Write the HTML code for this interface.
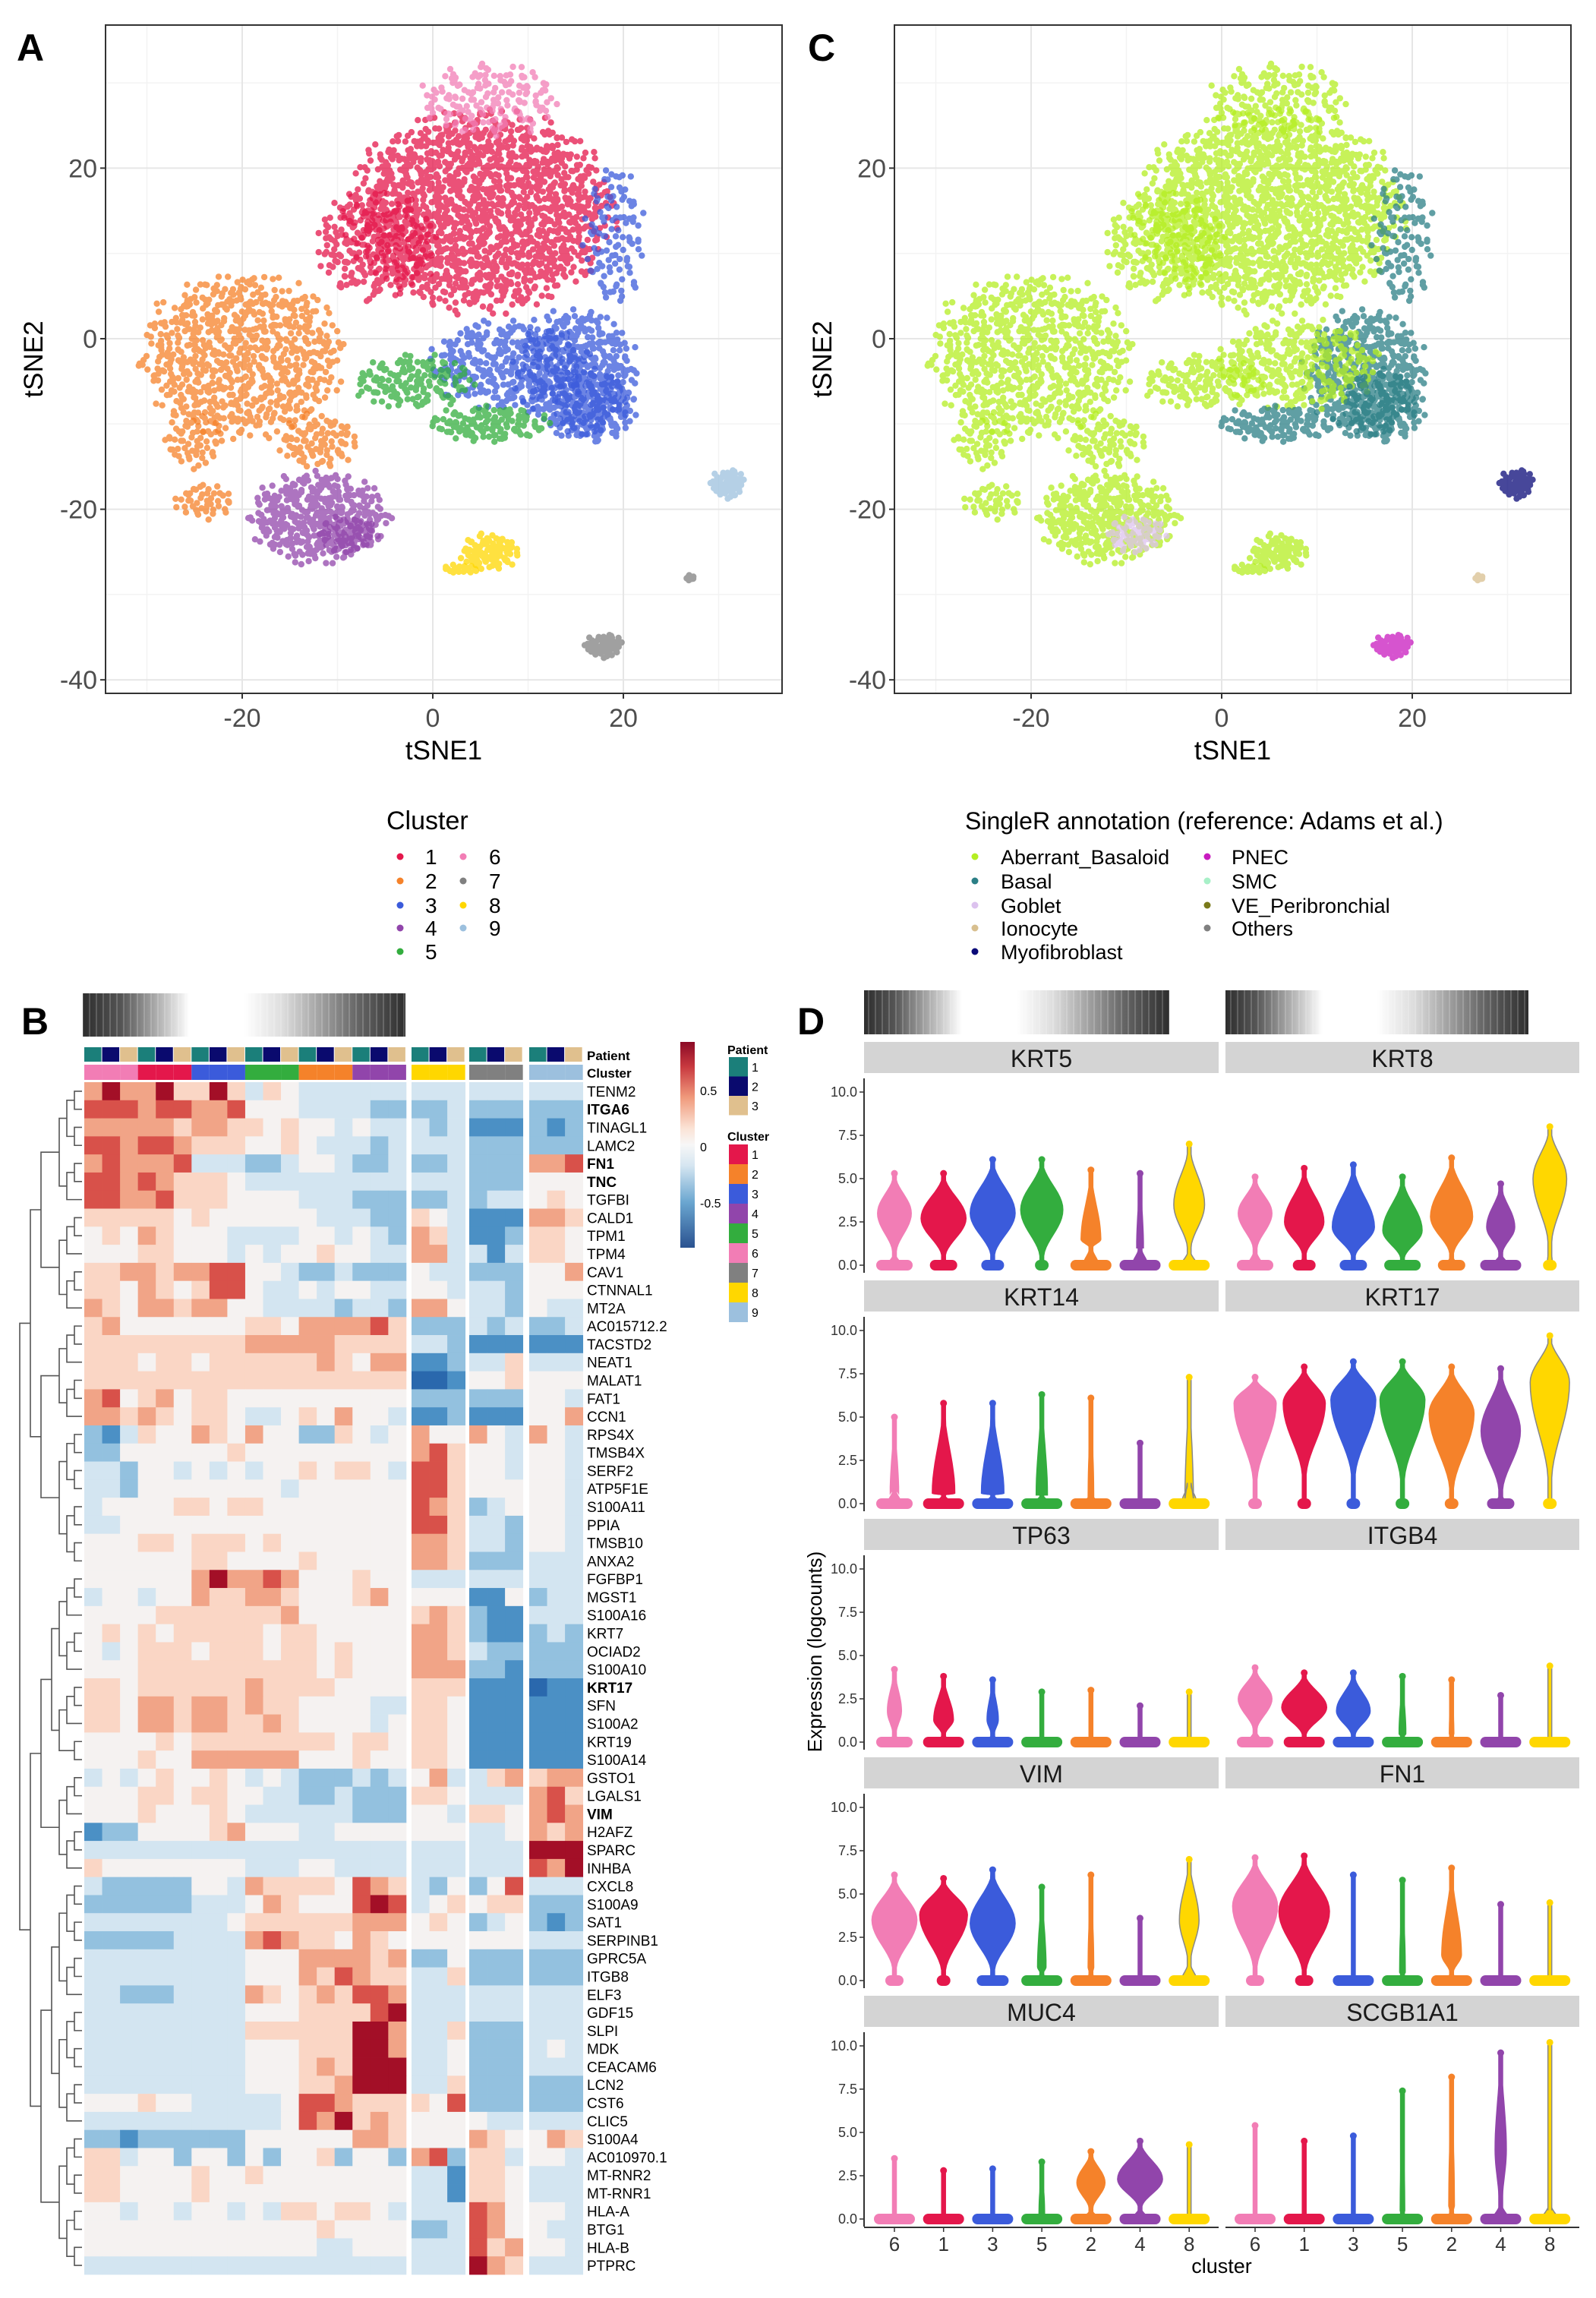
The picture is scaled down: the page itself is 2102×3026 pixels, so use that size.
<!DOCTYPE html>
<html><head><meta charset="utf-8"><title>Figure</title>
<style>html,body{margin:0;padding:0;background:#fff}svg{display:block}text{font-family:"Liberation Sans",Arial,sans-serif}</style>
</head><body>
<svg id="fig" xmlns="http://www.w3.org/2000/svg" width="2102" height="3026" viewBox="0 0 2102 3026">
<defs>
<linearGradient id="barGradH" x1="0" x2="1" y1="0" y2="0">
<stop offset="0" stop-color="#2e2e2e"/><stop offset="0.12" stop-color="#555"/><stop offset="0.33" stop-color="#fff"/><stop offset="0.5" stop-color="#fff"/><stop offset="0.62" stop-color="#ddd"/><stop offset="0.85" stop-color="#666"/><stop offset="1" stop-color="#2e2e2e"/>
</linearGradient>
<linearGradient id="barGradD" x1="0" x2="1" y1="0" y2="0">
<stop offset="0" stop-color="#2e2e2e"/><stop offset="0.1" stop-color="#555"/><stop offset="0.32" stop-color="#fff"/><stop offset="0.5" stop-color="#fff"/><stop offset="0.62" stop-color="#ddd"/><stop offset="0.85" stop-color="#666"/><stop offset="1" stop-color="#2e2e2e"/>
</linearGradient>
<pattern id="stripes" width="9" height="10" patternUnits="userSpaceOnUse"><rect x="0" y="0" width="2" height="10" fill="#fff" fill-opacity="0.18"/></pattern>
<linearGradient id="cbar" x1="0" x2="0" y1="0" y2="1">
<stop offset="0" stop-color="#8b0a26"/><stop offset="0.12" stop-color="#c8393f"/><stop offset="0.27" stop-color="#f09a7c"/><stop offset="0.42" stop-color="#fbe3d6"/><stop offset="0.5" stop-color="#f7f7f7"/><stop offset="0.6" stop-color="#d6e6f1"/><stop offset="0.78" stop-color="#6aa6d0"/><stop offset="1" stop-color="#2a5290"/>
</linearGradient>
<clipPath id="clipA"><rect x="139" y="33" width="891" height="880"/></clipPath>
<clipPath id="clipC"><rect x="1178" y="33" width="891" height="880"/></clipPath>
</defs>
<text x="22" y="80" font-size="50" font-weight="bold">A</text>
<text x="1064" y="80" font-size="50" font-weight="bold">C</text>
<text x="28" y="1362" font-size="50" font-weight="bold">B</text>
<text x="1050" y="1362" font-size="50" font-weight="bold">D</text>
<g id="gA"></g>
<g id="gC"></g>
<g id="gLeg"></g>
<g id="gB"></g>
<g id="gD"></g>
</svg>
<script>
// ---------- DATA ----------
const clusterIds = ["1","2","3","4","5","6","7","8","9"];
const clusterColors = ["#e4174b","#f5822a","#3b5bdb","#9145ab","#33ad3e","#f27db5","#808080","#ffd700","#9cc0de"];
const annotNames = ["Aberrant_Basaloid","Basal","Goblet","Ionocyte","Myofibroblast","PNEC","SMC","VE_Peribronchial","Others"];
const annotColors = ["#b4ee22","#2b7f86","#dcc2ee","#d8bf8f","#0a0a78","#c81bbf","#a8f0c8","#7a7a1a","#808080"];
const xTicks = [-20,0,20];
const yTicks = [-40,-20,0,20];
// blobs: [cx, cy, rx, ry, count, clusterIndex, annotIndex]
const blobCx = [5,-6,6,15,8,19,-20,-25,-12,-24,-2,6,-12,6,3,18,31,27,-9,17];
const blobCy = [15,11,28,-4,-3,12,-2,-12,-12,-19,-5,-10,-21,-25,-27,-36,-17,-28,-23,-8];
const blobRx = [13,6,7,6,8,3,10,3,4,3,6,6,7,3,2,2,1.8,0.6,3,4];
const blobRy = [11,6,4,7,5,8,9,3,3,2,3,2,5,2,0.5,1.3,1.6,0.3,2,4];
const blobN  = [1600,250,170,450,320,110,750,60,90,45,150,130,420,90,20,60,60,8,70,200];
const blobCluster = [0,0,5,2,2,2,1,1,1,1,4,4,3,7,7,6,8,6,3,2];
const blobAnnot   = [0,0,0,1,0,1,0,0,0,0,0,1,0,0,0,5,4,3,2,1];

// heatmap
const geneNames = ["TENM2","ITGA6","TINAGL1","LAMC2","FN1","TNC","TGFBI","CALD1","TPM1","TPM4","CAV1","CTNNAL1","MT2A","AC015712.2","TACSTD2","NEAT1","MALAT1","FAT1","CCN1","RPS4X","TMSB4X","SERF2","ATP5F1E","S100A11","PPIA","TMSB10","ANXA2","FGFBP1","MGST1","S100A16","KRT7","OCIAD2","S100A10","KRT17","SFN","S100A2","KRT19","S100A14","GSTO1","LGALS1","VIM","H2AFZ","SPARC","INHBA","CXCL8","S100A9","SAT1","SERPINB1","GPRC5A","ITGB8","ELF3","GDF15","SLPI","MDK","CEACAM6","LCN2","CST6","CLIC5","S100A4","AC010970.1","MT-RNR2","MT-RNR1","HLA-A","BTG1","HLA-B","PTPRC"];
const boldGenes = ["ITGA6","FN1","TNC","KRT17","VIM"];
const colClusterOrder = ["6","1","3","5","2","4","8","7","9"];
// level 0..8, value = (level-4)*0.2 ; columns: 9 clusters x 3 patients
const heatRows = [
"686685585354333333333333333","777677667444333322223222222","666665665545443433323111212","776776555445433323333222222","676667333223443223223222667","776765554333333333333222444","776675554444333222223233454","555554544444433322543111665","454654443333443432653112554","444554443434454433663313554","556656677443223222433222446","554654577433434433443332444","654665664433332332664332433","564444444554666675222323223","555555555666665555332111111","555455455555565466112335333","555555555555555555001445444","674564554444444444222222443","665654554334546443112111446","213544654644225434644643643","224444445444444444675443443","332443434344545543775443443","332444444443444444775444443","344445545544444444765234443","334444444444444444775332443","444554555454444444665332443","444444554444544444665222333","444444686676444544333333333","344344655665444564444114233","444455555556444444565211333","454545555545544444665211232","434555455545545444665322222","444555555555545444666221222","554555555655554444555111011","554665665655444433554111111","554665665565444434554111111","444454555555554554554111111","444544666666444544554111111","343454454343222323463356566","444554554433223222554333675","444544454333333222443554676","122444456444334444444334656","333333333333333333333333888","544444444333443333333333768","322222443655554765324247333","222222333465444787345455222","333333334555555666454234212","222223333676554654444444333","333333333444666656224222222","333333333444657655335222222","332223333654565776333333333","333333333444555578333333333","333333333555555886335222333","333333333444555886334222343","333333333444565888334222333","333333333444556888335222222","444544333334776555547222222","333333333334768565444433333","221222222444444665444654465","553442442424452442672553443","554444544544444444331554333","554444544444444444331554333","443443443435545543333764443","444444444444454444223764433","444444444444433444333756443","333333333333333333333865333"];
const heatLevelColors = ["#2a68ad","#4b90c5","#93c1df","#d3e5f1","#f5f2f1","#fad6c5","#f1a487","#d8514a","#a30f27"];
const patientColors = ["#1b7f7a","#0a0a6e","#e0c08e"];
const dendroBlocks = [[0,6],[7,12],[13,18],[19,26],[27,37],[38,43],[44,57],[58,65]];

// violins
const violinGenes = ["KRT5","KRT8","KRT14","KRT17","TP63","ITGB4","VIM","FN1","MUC4","SCGB1A1"];
const violinClusters = ["6","1","3","5","2","4","8"];
const violinTicks = [0,2.5,5,7.5,10];
const violinTickLabels = ["0.0","2.5","5.0","7.5","10.0"];
// per gene: 7 entries [zeroWidth, neck, mode, modeWidth, top]
const violinData = {
KRT5:[[.8,.6,3,.6,5.3],[.6,.4,2.7,.8,5.3],[.5,.4,3,.8,6.1],[.3,.3,3.2,.75,6.1],[.9,1,1.5,.35,5.5],[.9,1,1,.12,5.3],[.9,.8,3.5,.55,7]],
KRT8:[[.8,.8,3,.6,5.1],[.5,.5,2.5,.7,5.6],[.6,.4,2.2,.75,5.8],[.8,.3,2,.7,5.1],[.6,.5,2.8,.75,6.2],[.9,.6,2.2,.5,4.7],[.3,1,5,.6,8]],
KRT14:[[.8,.8,.6,.15,5],[.9,.5,.6,.4,5.8],[.9,.5,.6,.4,5.8],[.9,.5,.5,.2,6.3],[.9,.5,.3,.1,6.1],[.9,.3,.2,.05,3.5],[.9,1.2,.3,.15,7.3]],
KRT17:[[.05,1,5.8,.75,7.3],[.05,1.3,5.8,.75,7.9],[.05,1.3,6,.8,8.2],[.05,1,6,.8,8.2],[.05,.5,5.2,.8,7.9],[.6,.5,4.2,.7,7.8],[.05,1,7,.7,9.7]],
TP63:[[.8,.4,1.8,.25,4.2],[.9,.4,1.3,.35,3.8],[.9,.4,1.3,.2,3.6],[.9,.3,.5,.05,2.9],[.9,.3,.5,.03,3],[.9,.3,.5,.05,2.1],[.9,.3,.3,.02,2.9]],
ITGB4:[[.8,.6,2.5,.6,4.3],[.9,.3,2,.8,4],[.9,.3,1.8,.6,4],[.9,.3,.5,.12,3.8],[.9,.3,.5,.08,3.6],[.9,.3,.5,.05,2.7],[.9,.3,.3,.02,4.4]],
VIM:[[.4,.5,3.5,.8,6.1],[.3,.3,3.8,.85,5.9],[.7,.4,3.3,.8,6.4],[.9,.4,.8,.15,5.4],[.9,.4,.8,.1,6.1],[.9,.3,.5,.05,3.6],[.9,1,3.5,.35,7]],
FN1:[[.4,.5,4.3,.8,7.1],[.4,.3,4,.9,7.2],[.9,.3,.5,.05,6.1],[.9,.3,.5,.1,5.8],[.9,.4,1.5,.35,6.5],[.9,.3,.3,.05,4.4],[.9,.3,.3,.02,4.5]],
MUC4:[[.9,.3,.3,.04,3.5],[.9,.3,.3,.05,2.8],[.9,.3,.3,.04,2.9],[.9,.3,.3,.1,3.3],[.9,.5,2.1,.5,3.9],[.9,.6,2.3,.8,4.5],[.9,.3,.3,.02,4.3]],
SCGB1A1:[[.9,.3,.3,.01,5.4],[.9,.3,.5,.05,4.5],[.9,.3,.5,.05,4.8],[.9,.3,.5,.08,7.4],[.9,.4,.8,.1,8.2],[.9,.8,4,.2,9.6],[.9,.8,.5,.03,10.2]]
};

// ---------- HELPERS ----------
const NS="http://www.w3.org/2000/svg";
function mk(parent, tag, attrs, txt){const e=document.createElementNS(NS,tag);for(const k in attrs)e.setAttribute(k,attrs[k]);if(txt!==undefined)e.textContent=txt;parent.appendChild(e);return e;}

// ---------- TSNE PANELS ----------
function tsnePanel(gId, offX, colorMode){
  const g=document.getElementById(gId);
  const L=139+offX, R=1030+offX, T=33, B=913;
  const sx=v=>570+offX+12.55*v, sy=v=>446-11.23*v;
  let r=mk(g,'rect',{x:L,y:T,width:R-L,height:B-T,fill:'#fff'});
  
  
  for(const v of [-30,-10,10,30]){let l=mk(g,'line',{x1:sx(v),x2:sx(v),y1:T,y2:B,stroke:'#f3f3f3','stroke-width':1.5});}
  for(const v of [30,10,-10,-30]){let l=mk(g,'line',{x1:L,x2:R,y1:sy(v),y2:sy(v),stroke:'#f3f3f3','stroke-width':1.5});}
  xTicks.forEach(v=>{let l=mk(g,'line',{x1:sx(v),x2:sx(v),y1:T,y2:B,stroke:'#e6e6e6','stroke-width':2});});
  yTicks.forEach(v=>{let l=mk(g,'line',{x1:L,x2:R,y1:sy(v),y2:sy(v),stroke:'#e6e6e6','stroke-width':2});});
  const pts=mk(g,'g',{'clip-path':'url(#clip'+(offX?'C':'A')+')'});
  
  
  for(let b=0;b<blobCx.length;b++){
    const col = colorMode==='cluster'?clusterColors[blobCluster[b]]:annotColors[blobAnnot[b]];
    let d='';
    const n=blobN[b];
    for(let i=0;i<n;i++){
      const rr=Math.sqrt((i+0.5)/n)*(1+0.13*Math.sin(i*7.31)), th=i*2.399963+0.4*Math.sin(i*3.7);
      const x=sx(blobCx[b]+blobRx[b]*rr*Math.cos(th)), y=sy(blobCy[b]+blobRy[b]*rr*Math.sin(th));
      d+='M'+(x-4.2).toFixed(1)+' '+y.toFixed(1)+'a4.2 4.2 0 1 0 8.4 0a4.2 4.2 0 1 0 -8.4 0';
    }
    const p=mk(pts,'path',{d:d,fill:col,'fill-opacity':0.75});
    
    
  }
  let fr=mk(g,'rect',{x:L,y:T,width:R-L,height:B-T,fill:'none',stroke:'#333','stroke-width':2});
  
  
  xTicks.forEach(v=>{
    mk(g,'line',{x1:sx(v),x2:sx(v),y1:B,y2:B+7,stroke:'#333','stroke-width':2});
    let t=mk(g,'text',{x:sx(v),y:957,'font-size':34,'text-anchor':'middle',fill:'#4d4d4d'},String(v));
    
    
  });
  yTicks.forEach(v=>{
    mk(g,'line',{x1:L-7,x2:L,y1:sy(v),y2:sy(v),stroke:'#333','stroke-width':2});
    let t=mk(g,'text',{x:L-11,y:sy(v)+12,'font-size':34,'text-anchor':'end',fill:'#4d4d4d'},String(v));
    
    
  });
  let xt=mk(g,'text',{x:(L+R)/2,y:1000,'font-size':35,'text-anchor':'middle'},'tSNE1');
  
  
  let yt=mk(g,'text',{x:0,y:0,'font-size':35,'text-anchor':'middle',transform:'translate('+(56+offX)+',473) rotate(-90)'},'tSNE2');
  
  
}
tsnePanel('gA',0,'cluster');
tsnePanel('gC',1039,'annot');

// ---------- LEGENDS ----------
(function(){
  const g=document.getElementById('gLeg');
  let t=mk(g,'text',{x:509,y:1092,'font-size':34},'Cluster');
  
  
  const rowsY=[1128,1160,1192,1222,1253];
  clusterIds.forEach((c,i)=>{
    const col=i<5?0:1, row=i<5?i:i-5;
    const dx=col?610:527, lx=col?644:560;
    mk(g,'circle',{cx:dx,cy:rowsY[row],r:4.5,fill:clusterColors[i]});
    let e=mk(g,'text',{x:lx,y:rowsY[row]+10,'font-size':28},c);
    
    
  });
  let t2=mk(g,'text',{x:1271,y:1092,'font-size':32},'SingleR annotation (reference: Adams et al.)');
  
  
  annotNames.forEach((a,i)=>{
    const col=i<5?0:1, row=i<5?i:i-5;
    const dx=col?1590:1284, lx=col?1622:1318;
    mk(g,'circle',{cx:dx,cy:rowsY[row],r:4.5,fill:annotColors[i]});
    let e=mk(g,'text',{x:lx,y:rowsY[row]+10,'font-size':27},a);
    
    
  });
})();

// ---------- HEATMAP ----------
(function(){
  const g=document.getElementById('gB');
  const blockStart=[111,542,618,697], cw=23.55;
  const colX=j=>{ if(j<18) return blockStart[0]+j*cw; const b=1+Math.floor((j-18)/3); return blockStart[b]+((j-18)%3)*cw; };
  const top=1425, rh=(2995-1425)/geneNames.length;
  let bar=mk(g,'rect',{x:109,y:1308,width:425,height:57,fill:'url(#barGradH)'});
  
  
  mk(g,'rect',{x:109,y:1308,width:425,height:57,fill:'url(#stripes)'});
  for(let j=0;j<27;j++){
    const cl=colClusterOrder[Math.floor(j/3)];
    let p=mk(g,'rect',{x:colX(j),y:1379,width:cw-1,height:19,fill:patientColors[j%3]});
    
    
    let c=mk(g,'rect',{x:colX(j),y:1402,width:cw,height:20,fill:clusterColors[clusterIds.indexOf(cl)]});
    
    
  }
  let pl=mk(g,'text',{x:773,y:1396,'font-size':17,'font-weight':'bold'},'Patient');
  
  
  let cl=mk(g,'text',{x:773,y:1419,'font-size':17,'font-weight':'bold'},'Cluster');
  
  
  heatRows.forEach((row,i)=>{
    for(let j=0;j<27;j++){
      const lv=+row[j];
      const r=mk(g,'rect',{x:colX(j),y:top+i*rh,width:cw+0.4,height:rh+0.4,fill:heatLevelColors[lv]});
      
      
    }
    const gn=geneNames[i];
    const t=mk(g,'text',{x:773,y:top+i*rh+rh/2+7,'font-size':19,'font-weight':boldGenes.includes(gn)?'bold':'normal'},gn);
    
    
  });
  const dg=mk(g,'g',{stroke:'#555','stroke-width':1.6,fill:'none'});
  
  
  const leafX=108;
  function build(a,b,level){
    if(a===b) return {y:top+a*rh+rh/2,x:leafX};
    const m=Math.floor((a+b)/2);
    const l=build(a,m,level+1), r=build(m+1,b,level+1);
    const x=Math.min(l.x,r.x)-10;
    mk(dg,'path',{d:'M'+l.x+' '+l.y+'H'+x+'V'+r.y+'H'+r.x});
    return {y:(l.y+r.y)/2,x:x};
  }
  const nodes=dendroBlocks.map(b=>build(b[0],b[1],0));
  function merge(list){
    let cur=list;
    let x=Math.min(...list.map(n=>n.x));
    while(cur.length>1){
      x-=14; const nx=[];
      for(let i=0;i<cur.length;i+=2){
        if(i+1<cur.length){const l=cur[i],r=cur[i+1];mk(dg,'path',{d:'M'+l.x+' '+l.y+'H'+x+'V'+r.y+'H'+r.x});nx.push({x:x,y:(l.y+r.y)/2});}
        else nx.push(cur[i]);
      }
      cur=nx;
    }
    return cur[0];
  }
  merge(nodes);
  let cb=mk(g,'rect',{x:896,y:1372,width:19,height:271,fill:'url(#cbar)'});
  
  
  [['0.5',1442],['0',1516],['-0.5',1590]].forEach(a=>{let t=mk(g,'text',{x:922,y:a[1],'font-size':16},a[0]);});
  let pt=mk(g,'text',{x:958,y:1388,'font-size':16,'font-weight':'bold'},'Patient');
  
  
  patientColors.forEach((c,i)=>{
    mk(g,'rect',{x:960,y:1392+i*25.5,width:25,height:25.5,fill:c});
    let t=mk(g,'text',{x:990,y:1411+i*25.5,'font-size':16},String(i+1));
    
    
  });
  let ct=mk(g,'text',{x:958,y:1502,'font-size':16,'font-weight':'bold'},'Cluster');
  
  
  clusterIds.forEach((c,i)=>{
    mk(g,'rect',{x:960,y:1507+i*26,width:25,height:26,fill:clusterColors[i]});
    let t=mk(g,'text',{x:990,y:1526+i*26,'font-size':16},c);
    
    
  });
})();

// ---------- VIOLINS ----------
(function(){
  const g=document.getElementById('gD');
  [[1138,402],[1614,399]].forEach(b=>{
    let r=mk(g,'rect',{x:b[0],y:1304,width:b[1],height:58,fill:'url(#barGradD)'});
    
    
    mk(g,'rect',{x:b[0],y:1304,width:b[1],height:58,fill:'url(#stripes)'});
  });
  const colL=[1138,1614], colW=[467,466], centers0=[1178,1653], step=64.7, hwMax=37, zMax=30;
  function cosInterp(a,b,t){const m=(1-Math.cos(Math.PI*t))/2;return a+(b-a)*m;}
  violinGenes.forEach((gene,gi)=>{
    const col=gi%2, row=Math.floor(gi/2);
    const S=1372+314*row;
    const sy=v=>S+294-v*22.8;
    let strip=mk(g,'rect',{x:colL[col],y:S,width:colW[col],height:41,fill:'#d4d4d4'});
    
    
    let st=mk(g,'text',{x:colL[col]+colW[col]/2,y:S+33,'font-size':32,'text-anchor':'middle',fill:'#1a1a1a'},gene);
    
    
    if(col===0){
      let ax=mk(g,'line',{x1:1138,x2:1138,y1:S+48,y2:S+304,stroke:'#333','stroke-width':2});
      
      
      violinTicks.forEach((v,k)=>{
        mk(g,'line',{x1:1132,x2:1138,y1:sy(v),y2:sy(v),stroke:'#333','stroke-width':1.5});
        let t=mk(g,'text',{x:1129,y:sy(v)+6,'font-size':18,'text-anchor':'end',fill:'#333'},violinTickLabels[k]);
        
        
      });
    }
    violinData[gene].forEach((p,ci)=>{
      const cx=centers0[col]+ci*step;
      const color=clusterColors[clusterIds.indexOf(violinClusters[ci])];
      const [z,neck,mode,w,topV]=p;
      const ctrl=[[0,Math.max(z*0.3,0.03)],[neck,0.05],[mode,w],[topV,0.02]];
      const ptsR=[],ptsL=[];
      for(let s=0;s<ctrl.length-1;s++){
        const a=ctrl[s],b=ctrl[s+1];
        if(b[0]<=a[0]) continue;
        for(let k=0;k<=12;k++){const t=k/12;const v=a[0]+(b[0]-a[0])*t;const h=Math.max(cosInterp(a[1],b[1],t)*hwMax,2.5);ptsR.push([cx+h,sy(v)]);ptsL.unshift([cx-h,sy(v)]);}
      }
      const d='M'+ptsR.map(q=>q[0].toFixed(1)+' '+q[1].toFixed(1)).join('L')+'L'+ptsL.map(q=>q[0].toFixed(1)+' '+q[1].toFixed(1)).join('L')+'Z';
      const vp=mk(g,'path',{d:d,fill:color,stroke:ci===6?'#888':color,'stroke-width':1.5});
      
      
      const zh=Math.max(z,0.3)*zMax;
      const zb=mk(g,'rect',{x:cx-zh,y:sy(0)-7,width:2*zh,height:14,rx:7,fill:color});
      
      
      mk(g,'circle',{cx:cx,cy:sy(topV),r:4.5,fill:color});
    });
    if(row===4){
      let bl=mk(g,'line',{x1:colL[col],x2:colL[col]+colW[col],y1:2933,y2:2933,stroke:'#333','stroke-width':2});
      
      
      violinClusters.forEach((c,ci)=>{
        const cx=centers0[col]+ci*step;
        mk(g,'line',{x1:cx,x2:cx,y1:2933,y2:2939,stroke:'#333','stroke-width':1.5});
        let t=mk(g,'text',{x:cx,y:2964,'font-size':26,'text-anchor':'middle',fill:'#333'},c);
        
        
      });
    }
  });
  let xt=mk(g,'text',{x:1609,y:2993,'font-size':27,'text-anchor':'middle'},'cluster');
  
  
  let yt=mk(g,'text',{x:0,y:0,'font-size':26,'text-anchor':'middle',transform:'translate(1082,2175) rotate(-90)'},'Expression (logcounts)');
  
  
})();
</script>
</body></html>
